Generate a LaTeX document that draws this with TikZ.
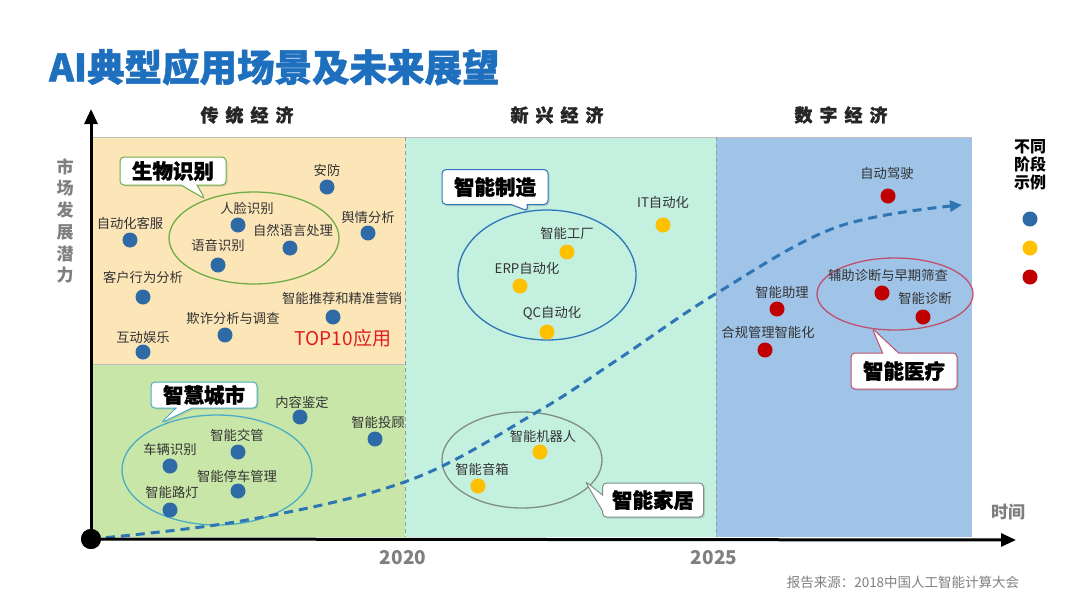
\documentclass[tikz,border=0pt]{standalone}
\usepackage{fontspec}
\setmainfont{Noto Sans CJK SC}
\newfontfamily\heavyfont{Noto Sans CJK SC}[BoldFeatures={FakeBold=1.3}]
\usetikzlibrary{arrows.meta,shapes.callouts,shadows}
\definecolor{ttl}{HTML}{1F6FBF}
\definecolor{pyel}{HTML}{FCE6B8}
\definecolor{pgrn}{HTML}{C8E6A8}
\definecolor{pteal}{HTML}{C4F0DF}
\definecolor{pblue}{HTML}{9FC4E7}
\definecolor{dblue}{HTML}{2E6BA6}
\definecolor{dyel}{HTML}{FFC000}
\definecolor{dred}{HTML}{C00000}
\definecolor{curv}{HTML}{2E75B6}
\definecolor{gtxt}{HTML}{7F7F7F}
\definecolor{ltxt}{HTML}{333333}
\definecolor{egrn}{HTML}{70AD47}
\definecolor{eteal}{HTML}{4BACC6}
\definecolor{eblue}{HTML}{2E75B6}
\definecolor{egray}{HTML}{7F8F85}
\definecolor{ered}{HTML}{C0506E}
\definecolor{topred}{HTML}{E01E1E}
\tikzset{
  dotb/.style={circle,inner sep=0pt,minimum size=15pt,fill=dblue},
  doty/.style={circle,inner sep=0pt,minimum size=15pt,fill=dyel},
  dotr/.style={circle,inner sep=0pt,minimum size=15pt,fill=dred},
  lbl/.style={inner sep=0pt,text=ltxt,font=\fontsize{13.3}{15}\selectfont},
  hdr/.style={inner sep=0pt,text=black!85,font=\fontsize{18}{20}\selectfont\heavyfont\bfseries},
  yr/.style={inner sep=0pt,text=gtxt,font=\fontsize{19}{21}\selectfont\bfseries},
  callbox/.style={rectangle callout,fill=white,draw,line width=1pt,rounded corners=4pt,
    minimum width=106pt,inner sep=0pt,callout pointer width=16pt,
    font=\fontsize{20.5}{22}\selectfont\heavyfont\bfseries,text=black,
    drop shadow={opacity=0.25,shadow xshift=1.5pt,shadow yshift=-1.5pt}},
  ell/.style={line width=1.3pt},
  axisline/.style={line width=3pt,-{Triangle[length=15pt,width=13pt]}},
  trend/.style={curv,line width=3pt,dash pattern=on 9pt off 6pt,-{Triangle[length=12pt,width=11pt]}},
}
\begin{document}
\begin{tikzpicture}[x=1pt,y=-1pt]
\useasboundingbox (0,0) rectangle (1080,600);
\fill[white] (0,0) rectangle (1080,600);
% title
\node[anchor=west,inner sep=0pt,text=ttl,font=\fontsize{37.5}{40}\selectfont\heavyfont\bfseries] (title) at (49,67) {AI典型应用场景及未来展望};
% panels
\fill[pyel] (93,137) rectangle (405,364);
\fill[pgrn] (93,364) rectangle (405,537);
\fill[pteal] (405,137) rectangle (716,537);
\fill[pblue] (716,137) rectangle (972,537);
\draw[black!25,line width=0.6pt] (93,137) -- (972,137);
\draw[black!25,line width=0.6pt] (93,364) -- (405,364);
\draw[gray!80,line width=1pt,dash pattern=on 4pt off 3pt] (405,137) -- (405,537);
\draw[gray!80,line width=1pt,dash pattern=on 4pt off 3pt] (716,137) -- (716,537);
% headers
\node[hdr] (h1) at (247,115) {传\hspace{7pt}统\hspace{7pt}经\hspace{7pt}济};
\node[hdr] (h2) at (557,115) {新\hspace{7pt}兴\hspace{7pt}经\hspace{7pt}济};
\node[hdr] (h3) at (841,115) {数\hspace{7pt}字\hspace{7pt}经\hspace{7pt}济};
% ellipses
\draw[ell,egrn] (254,238) ellipse [x radius=85pt,y radius=46pt];
\draw[ell,eteal] (217,470) ellipse [x radius=95pt,y radius=55pt];
\draw[ell,eblue] (547,275) ellipse [x radius=89pt,y radius=65pt];
\draw[ell,egray] (522,460) ellipse [x radius=80pt,y radius=48pt];
\draw[ell,ered] (895,294) ellipse [x radius=78pt,y radius=36pt];
% trend curve
\coordinate (cend) at (962,205);
\node[circle,fill=black,minimum size=20pt,inner sep=0pt] (o) at (91,539) {};
\draw[trend] plot[smooth,tension=0.6] coordinates {(o.center) (247,520) (410,480) (537,412) (617,360) (717,293) (837,227) (cend)};
% left top
\node[lbl] (l1) at (327,170) {安防}; \node[dotb] (d1) at (327,187) {};
\node[lbl] (l2) at (247,208) {人脸识别}; \node[dotb] (d2) at (238,225) {};
\node[lbl] (l3) at (130,223) {自动化客服}; \node[dotb] (d3) at (130,240) {};
\node[lbl] (l4) at (293,230) {自然语言处理}; \node[dotb] (d4) at (290,248) {};
\node[lbl] (l5) at (368,217) {舆情分析}; \node[dotb] (d5) at (368,233) {};
\node[lbl] (l6) at (218,245) {语音识别}; \node[dotb] (d6) at (218,265) {};
\node[lbl] (l7) at (143,277) {客户行为分析}; \node[dotb] (d7) at (143,297) {};
\node[lbl] (l8) at (342,298) {智能推荐和精准营销}; \node[dotb] (d8) at (333,317) {};
\node[lbl] (l9) at (233,318) {欺诈分析与调查}; \node[dotb] (d9) at (225,335) {};
\node[lbl] (l10) at (143,337) {互动娱乐}; \node[dotb] (d10) at (143,352) {};
\node[inner sep=0pt,text=topred,font=\fontsize{19}{21}\selectfont] (top10) at (343,338) {TOP10应用};
% left bottom
\node[lbl] (l11) at (302,402) {内容鉴定}; \node[dotb] (d11) at (300,417) {};
\node[lbl] (l12) at (378,422) {智能投顾}; \node[dotb] (d12) at (375,439) {};
\node[lbl] (l13) at (237,435) {智能交管}; \node[dotb] (d13) at (238,452) {};
\node[lbl] (l14) at (170,449) {车辆识别}; \node[dotb] (d14) at (170,466) {};
\node[lbl] (l15) at (237,476) {智能停车管理}; \node[dotb] (d15) at (238,491) {};
\node[lbl] (l16) at (172,492) {智能路灯}; \node[dotb] (d16) at (170,510) {};
% middle
\node[lbl] (m1) at (663,202) {IT自动化}; \node[doty] (e1) at (663,225) {};
\node[lbl] (m2) at (567,233) {智能工厂}; \node[doty] (e2) at (567,252) {};
\node[lbl] (m3) at (527,268) {ERP自动化}; \node[doty] (e3) at (520,286) {};
\node[lbl] (m4) at (552,313) {QC自动化}; \node[doty] (e4) at (547,332) {};
\node[lbl] (m5) at (543,436) {智能机器人}; \node[doty] (e5) at (540,452) {};
\node[lbl] (m6) at (482,469) {智能音箱}; \node[doty] (e6) at (478,486) {};
% right
\node[lbl] (r1) at (887,173) {自动驾驶}; \node[dotr] (f1) at (888,196) {};
\node[lbl] (r2) at (888,275) {辅助诊断与早期筛查}; \node[dotr] (f2) at (882,293) {};
\node[lbl] (r3) at (925,298) {智能诊断}; \node[dotr] (f3) at (923,317) {};
\node[lbl] (r4) at (782,292) {智能助理}; \node[dotr] (f4) at (777,309) {};
\node[lbl] (r5) at (768,332) {合规管理智能化}; \node[dotr] (f5) at (765,350) {};
% callouts
\node[callbox,draw=egrn,minimum height=28pt,callout absolute pointer={(205,199)}] (c1) at (173,171) {生物识别};
\node[callbox,draw=eteal,minimum height=26pt,callout absolute pointer={(161,423)}] (c2) at (204,395) {智慧城市};
\node[callbox,draw=eblue,minimum height=35pt,callout absolute pointer={(528,211)}] (c3) at (495,187) {智能制造};
\node[callbox,draw=egray,minimum width=101pt,minimum height=34pt,callout absolute pointer={(585,481)}] (c4) at (653,500) {智能家居};
\node[callbox,draw=ered,minimum height=36pt,callout absolute pointer={(872,328)}] (c5) at (904,371) {智能医疗};
% axes
\coordinate (ytop) at (91,109);
\coordinate (xend) at (1016,540);
\draw[axisline] (o.center) -- (ytop);
\draw[axisline] (o.center) -- (xend);
\node[circle,fill=black,minimum size=20pt,inner sep=0pt] at (o) {};
% axis labels
\node[yr] (y2020) at (403,558) {2020};
\node[yr] (y2025) at (714,558) {2025};
\node[inner sep=0pt,text=gtxt,font=\fontsize{17}{19}\selectfont\bfseries] (time) at (1008,512) {时间};
\node[inner sep=0pt,text=gtxt,align=center,font=\fontsize{17}{21.7}\selectfont\bfseries] (mkt) at (65,221) {市\\场\\发\\展\\潜\\力};
% legend
\node[inner sep=0pt,text=black,align=center,font=\fontsize{16}{18}\selectfont\bfseries] (leg) at (1030,165) {不同\\阶段\\示例};
\node[dotb] (g1) at (1030,219) {};
\node[doty] (g2) at (1030,248) {};
\node[dotr] (g3) at (1030,277) {};
% source
\node[inner sep=0pt,text=gtxt,font=\fontsize{13.5}{15}\selectfont] (src) at (903,582) {报告来源：2018中国人工智能计算大会};
\end{tikzpicture}
\end{document}
